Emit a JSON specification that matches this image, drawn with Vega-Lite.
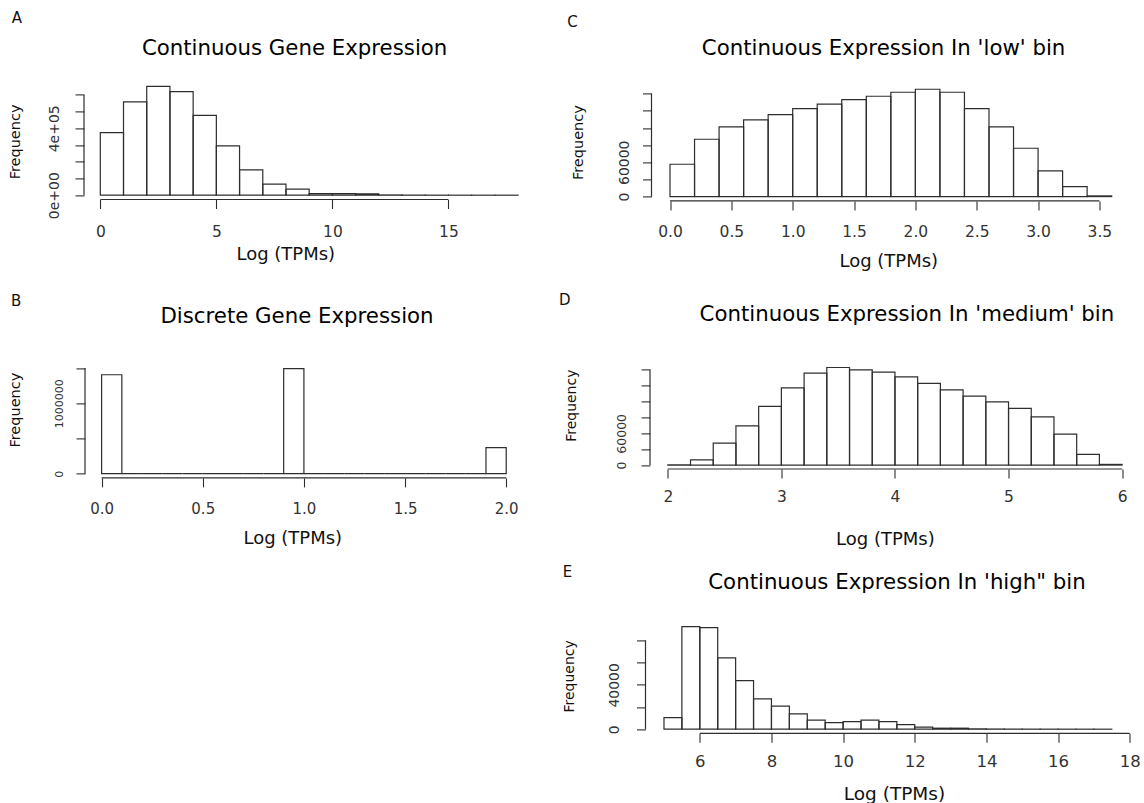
{
  "$schema": "https://vega.github.io/schema/vega-lite/v6.json",
  "padding": {"left": 7, "top": 10.4, "right": 0, "bottom": 0},
  "background": "white",
  "config": {
    "view": {"stroke": null},
    "font": "DejaVu Sans",
    "axis": {"domain": false, "grid": false, "ticks": true, "tickSize": 9, "tickColor": "#2e2e2e", "tickWidth": 1.1, "labelColor": "#333", "labelFont": "DejaVu Sans", "titleFont": "DejaVu Sans", "titleFontWeight": "normal", "titleColor": "#111", "labelFlush": false, "labelOverlap": false, "labelBound": false, "tickCount": 30},
    "title": {"font": "DejaVu Sans", "fontWeight": "normal", "color": "#000", "anchor": "middle", "frame": "group", "baseline": "alphabetic"},
    "text": {"font": "DejaVu Sans"}
  },
  "columns": 2,
  "align": "none",
  "bounds": "flush",
  "spacing": {"row": 140, "column": 115.5},
  "concat": [
    {
      "width": 451, "height": 116.1,
      "title": {"text": "Continuous Gene Expression", "fontSize": 21.3, "offset": -47.9, "dx": -15.9},
      "layer": [
        {
          "data": {"values": [
            {"x0": 0, "x1": 1, "count": 374500}, {"x0": 1, "x1": 2, "count": 558000}, {"x0": 2, "x1": 3, "count": 651000},
            {"x0": 3, "x1": 4, "count": 619500}, {"x0": 4, "x1": 5, "count": 478000}, {"x0": 5, "x1": 6, "count": 295000},
            {"x0": 6, "x1": 7, "count": 152000}, {"x0": 7, "x1": 8, "count": 66000}, {"x0": 8, "x1": 9, "count": 36000},
            {"x0": 9, "x1": 10, "count": 10000}, {"x0": 10, "x1": 11, "count": 10000}, {"x0": 11, "x1": 12, "count": 8000},
            {"x0": 12, "x1": 13, "count": 1500}, {"x0": 13, "x1": 14, "count": 500}, {"x0": 14, "x1": 15, "count": 200},
            {"x0": 15, "x1": 16, "count": 80}, {"x0": 16, "x1": 17, "count": 30}, {"x0": 17, "x1": 18, "count": 10}
          ]},
          "mark": {"type": "rect", "filled": false, "stroke": "#2e2e2e", "strokeWidth": 1.2},
          "encoding": {
            "x": {"field": "x0", "type": "quantitative", "scale": {"domain": [-0.659, 18.772], "nice": false, "zero": false},
                  "axis": {"values": [0, 5, 10, 15], "tickCount": 30, "format": "d", "labelOverlap": false, "labelFontSize": 15.5, "labelPadding": 15.8, "title": "Log (TPMs)", "titleFontSize": 18, "titlePadding": 5.3, "titleX": 200.3}},
            "x2": {"field": "x1"},
            "y": {"field": "count", "type": "quantitative", "scale": {"domain": [-25718, 668660], "nice": false, "zero": false},
                  "axis": {"values": [0, 100000, 200000, 300000, 400000, 500000, 600000], "tickCount": 30, "labelExpr": "datum.value == 0 ? '0e+00' : datum.value == 400000 ? '4e+05' : ''", "labelOverlap": false, "labelAngle": 270, "labelAlign": "center", "labelBaseline": "alphabetic", "labelFontSize": 14, "labelPadding": 17, "offset": 1, "title": "Frequency", "titleFontSize": 14.5, "titlePadding": 24.7}},
            "y2": {"datum": 0}
          }
        },
        {"data": {"values": [{}]}, "mark": {"type": "rule", "stroke": "#2e2e2e", "strokeWidth": 1.2}, "encoding": {"x": {"datum": 0}, "x2": {"datum": 15}, "y": {"datum": -25718}}},
        {"data": {"values": [{}]}, "mark": {"type": "rule", "stroke": "#2e2e2e", "strokeWidth": 1.2}, "encoding": {"x": {"datum": -0.7021}, "y": {"datum": 0}, "y2": {"datum": 600000}}},
        {"data": {"values": [{}]}, "mark": {"type": "text", "text": "A", "align": "left", "baseline": "alphabetic", "fontSize": 15, "color": "#111"}, "encoding": {"x": {"datum": -3.8171}, "y": {"datum": 1028708}}}
      ]
    },
    {
      "width": 480, "height": 117.5,
      "title": {"text": "Continuous Expression In 'low' bin", "fontSize": 21.3, "offset": -44.2, "dx": -7.9},
      "layer": [
        {
          "data": {"values": [
            {"x0": 0.0, "x1": 0.2, "count": 56500}, {"x0": 0.2, "x1": 0.4, "count": 100200}, {"x0": 0.4, "x1": 0.6, "count": 121700},
            {"x0": 0.6, "x1": 0.8, "count": 134000}, {"x0": 0.8, "x1": 1.0, "count": 143300}, {"x0": 1.0, "x1": 1.2, "count": 153800},
            {"x0": 1.2, "x1": 1.4, "count": 161400}, {"x0": 1.4, "x1": 1.6, "count": 169500}, {"x0": 1.6, "x1": 1.8, "count": 175300},
            {"x0": 1.8, "x1": 2.0, "count": 182300}, {"x0": 2.0, "x1": 2.2, "count": 187600}, {"x0": 2.2, "x1": 2.4, "count": 182300},
            {"x0": 2.4, "x1": 2.6, "count": 153800}, {"x0": 2.6, "x1": 2.8, "count": 121700}, {"x0": 2.8, "x1": 3.0, "count": 84500},
            {"x0": 3.0, "x1": 3.2, "count": 44900}, {"x0": 3.2, "x1": 3.4, "count": 17500}, {"x0": 3.4, "x1": 3.6, "count": 1200}
          ]},
          "mark": {"type": "rect", "filled": false, "stroke": "#2e2e2e", "strokeWidth": 1.2},
          "encoding": {
            "x": {"field": "x0", "type": "quantitative", "scale": {"domain": [-0.1508, 3.7615], "nice": false, "zero": false},
                  "axis": {"values": [0, 0.5, 1, 1.5, 2, 2.5, 3, 3.5], "tickCount": 30, "format": ".1f", "labelOverlap": false, "labelFontSize": 15.5, "labelPadding": 14.4, "title": "Log (TPMs)", "titleFontSize": 18, "titlePadding": 12.3, "titleX": 236.8}},
            "x2": {"field": "x1"},
            "y": {"field": "count", "type": "quantitative", "scale": {"domain": [-7513, 197787], "nice": false, "zero": false},
                  "axis": {"values": [0, 30000, 60000, 90000, 120000, 150000, 180000], "tickCount": 30, "labelExpr": "datum.value == 0 ? '0' : datum.value == 60000 ? '60000' : ''", "labelOverlap": false, "labelAngle": 270, "labelAlign": "center", "labelBaseline": "alphabetic", "labelFontSize": 14, "labelPadding": 14.4, "title": "Frequency", "titleFontSize": 14.5, "titlePadding": 31.4}},
            "y2": {"datum": 0}
          }
        },
        {"data": {"values": [{}]}, "mark": {"type": "rule", "stroke": "#2e2e2e", "strokeWidth": 1.2}, "encoding": {"x": {"datum": 0}, "x2": {"datum": 3.5}, "y": {"datum": -7513}}},
        {"data": {"values": [{}]}, "mark": {"type": "rule", "stroke": "#2e2e2e", "strokeWidth": 1.2}, "encoding": {"x": {"datum": -0.1508}, "y": {"datum": 0}, "y2": {"datum": 180000}}},
        {"data": {"values": [{}]}, "mark": {"type": "text", "text": "C", "align": "left", "baseline": "alphabetic", "fontSize": 15, "color": "#111"}, "encoding": {"x": {"datum": -0.8371}, "y": {"datum": 296331}}}
      ]
    },
    {
      "width": 451, "height": 136.5,
      "title": {"text": "Discrete Gene Expression", "fontSize": 21.3, "offset": -32.8, "dx": -13.5},
      "layer": [
        {
          "data": {"values": [
            {"x0": 0.0, "x1": 0.1, "count": 1405000}, {"x0": 0.1, "x1": 0.2, "count": 0}, {"x0": 0.2, "x1": 0.3, "count": 0},
            {"x0": 0.3, "x1": 0.4, "count": 0}, {"x0": 0.4, "x1": 0.5, "count": 0}, {"x0": 0.5, "x1": 0.6, "count": 0},
            {"x0": 0.6, "x1": 0.7, "count": 0}, {"x0": 0.7, "x1": 0.8, "count": 0}, {"x0": 0.8, "x1": 0.9, "count": 0},
            {"x0": 0.9, "x1": 1.0, "count": 1491000}, {"x0": 1.0, "x1": 1.1, "count": 0}, {"x0": 1.1, "x1": 1.2, "count": 0},
            {"x0": 1.2, "x1": 1.3, "count": 0}, {"x0": 1.3, "x1": 1.4, "count": 0}, {"x0": 1.4, "x1": 1.5, "count": 0},
            {"x0": 1.5, "x1": 1.6, "count": 0}, {"x0": 1.6, "x1": 1.7, "count": 0}, {"x0": 1.7, "x1": 1.8, "count": 0},
            {"x0": 1.8, "x1": 1.9, "count": 0}, {"x0": 1.9, "x1": 2.0, "count": 369000}
          ]},
          "mark": {"type": "rect", "filled": false, "stroke": "#2e2e2e", "strokeWidth": 1.2},
          "encoding": {
            "x": {"field": "x0", "type": "quantitative", "scale": {"domain": [-0.0821, 2.1473], "nice": false, "zero": false},
                  "axis": {"values": [0, 0.5, 1, 1.5, 2], "tickCount": 30, "format": ".1f", "labelOverlap": false, "labelFontSize": 15, "labelPadding": 14.8, "title": "Log (TPMs)", "titleFontSize": 18, "titlePadding": 12.9, "titleX": 207.3}},
            "x2": {"field": "x1"},
            "y": {"field": "count", "type": "quantitative", "scale": {"domain": [-59625, 1878194], "nice": false, "zero": false},
                  "axis": {"values": [0, 500000, 1000000, 1500000], "tickCount": 30, "labelExpr": "datum.value == 0 ? '0' : datum.value == 1000000 ? '1000000' : ''", "labelOverlap": false, "labelAngle": 270, "labelAlign": "center", "labelBaseline": "alphabetic", "labelFontSize": 11, "labelPadding": 13.4, "title": "Frequency", "titleFontSize": 14.5, "titlePadding": 30.7}},
            "y2": {"datum": 0}
          }
        },
        {"data": {"values": [{}]}, "mark": {"type": "rule", "stroke": "#2e2e2e", "strokeWidth": 1.2}, "encoding": {"x": {"datum": 0}, "x2": {"datum": 2}, "y": {"datum": -59625}}},
        {"data": {"values": [{}]}, "mark": {"type": "rule", "stroke": "#2e2e2e", "strokeWidth": 1.2}, "encoding": {"x": {"datum": -0.0821}, "y": {"datum": 0}, "y2": {"datum": 1500000}}},
        {"data": {"values": [{}]}, "mark": {"type": "text", "text": "B", "align": "left", "baseline": "alphabetic", "fontSize": 15, "color": "#111"}, "encoding": {"x": {"datum": -0.4479}, "y": {"datum": 2373651}}}
      ]
    },
    {
      "width": 489, "height": 127.6,
      "title": {"text": "Continuous Expression In 'medium' bin", "fontSize": 21.3, "offset": -32.9, "dx": 10.9},
      "layer": [
        {
          "data": {"values": [
            {"x0": 2.0, "x1": 2.2, "count": 300}, {"x0": 2.2, "x1": 2.4, "count": 10000}, {"x0": 2.4, "x1": 2.6, "count": 41500},
            {"x0": 2.6, "x1": 2.8, "count": 74200}, {"x0": 2.8, "x1": 3.0, "count": 110700}, {"x0": 3.0, "x1": 3.2, "count": 145900},
            {"x0": 3.2, "x1": 3.4, "count": 173600}, {"x0": 3.4, "x1": 3.6, "count": 184300}, {"x0": 3.6, "x1": 3.8, "count": 179900},
            {"x0": 3.8, "x1": 4.0, "count": 175500}, {"x0": 4.0, "x1": 4.2, "count": 166700}, {"x0": 4.2, "x1": 4.4, "count": 154100},
            {"x0": 4.4, "x1": 4.6, "count": 142100}, {"x0": 4.6, "x1": 4.8, "count": 130200}, {"x0": 4.8, "x1": 5.0, "count": 119500},
            {"x0": 5.0, "x1": 5.2, "count": 106900}, {"x0": 5.2, "x1": 5.4, "count": 91200}, {"x0": 5.4, "x1": 5.6, "count": 58500},
            {"x0": 5.6, "x1": 5.8, "count": 20100}, {"x0": 5.8, "x1": 6.0, "count": 1300}
          ]},
          "mark": {"type": "rect", "filled": false, "stroke": "#2e2e2e", "strokeWidth": 1.2},
          "encoding": {
            "x": {"field": "x0", "type": "quantitative", "scale": {"domain": [1.8565, 6.1618], "nice": false, "zero": false},
                  "axis": {"values": [2, 3, 4, 5, 6], "tickCount": 30, "format": "d", "labelOverlap": false, "labelFontSize": 15.5, "labelPadding": 11.8, "title": "Log (TPMs)", "titleFontSize": 18, "titlePadding": 25.6, "titleX": 233.4}},
            "x2": {"field": "x1"},
            "y": {"field": "count", "type": "quantitative", "scale": {"domain": [-7363, 233543], "nice": false, "zero": false},
                  "axis": {"values": [0, 30000, 60000, 90000, 120000, 150000, 180000], "tickCount": 30, "labelExpr": "datum.value == 0 ? '0' : datum.value == 60000 ? '60000' : ''", "labelOverlap": false, "labelAngle": 270, "labelAlign": "center", "labelBaseline": "alphabetic", "labelFontSize": 12.5, "labelPadding": 15.2, "offset": 1.5, "title": "Frequency", "titleFontSize": 14, "titlePadding": 37.6}},
            "y2": {"datum": 0}
          }
        },
        {"data": {"values": [{}]}, "mark": {"type": "rule", "stroke": "#2e2e2e", "strokeWidth": 1.2}, "encoding": {"x": {"datum": 2}, "x2": {"datum": 6}, "y": {"datum": -7363}}},
        {"data": {"values": [{}]}, "mark": {"type": "rule", "stroke": "#2e2e2e", "strokeWidth": 1.2}, "encoding": {"x": {"datum": 1.8433}, "y": {"datum": 0}, "y2": {"datum": 180000}}},
        {"data": {"values": [{}]}, "mark": {"type": "text", "text": "D", "align": "left", "baseline": "alphabetic", "fontSize": 15, "color": "#111"}, "encoding": {"x": {"datum": 1.0421}, "y": {"datum": 302643}}}
      ]
    },
    {
      "width": 451, "height": 10,
      "data": {"values": []},
      "mark": {"type": "point", "opacity": 0}
    },
    {
      "width": 480, "height": 114.9,
      "title": {"text": "Continuous Expression In 'high\" bin", "fontSize": 21.3, "offset": -28.4, "dx": 5.5},
      "layer": [
        {
          "data": {"values": [
            {"x0": 5.0, "x1": 5.5, "count": 10500}, {"x0": 5.5, "x1": 6.0, "count": 92600}, {"x0": 6.0, "x1": 6.5, "count": 91700},
            {"x0": 6.5, "x1": 7.0, "count": 64400}, {"x0": 7.0, "x1": 7.5, "count": 43900}, {"x0": 7.5, "x1": 8.0, "count": 27400},
            {"x0": 8.0, "x1": 8.5, "count": 20800}, {"x0": 8.5, "x1": 9.0, "count": 13800}, {"x0": 9.0, "x1": 9.5, "count": 8100},
            {"x0": 9.5, "x1": 10.0, "count": 6000}, {"x0": 10.0, "x1": 10.5, "count": 6900}, {"x0": 10.5, "x1": 11.0, "count": 8100},
            {"x0": 11.0, "x1": 11.5, "count": 6900}, {"x0": 11.5, "x1": 12.0, "count": 4200}, {"x0": 12.0, "x1": 12.5, "count": 1800},
            {"x0": 12.5, "x1": 13.0, "count": 900}, {"x0": 13.0, "x1": 13.5, "count": 900}, {"x0": 13.5, "x1": 14.0, "count": 300},
            {"x0": 14.0, "x1": 14.5, "count": 150}, {"x0": 14.5, "x1": 15.0, "count": 80}, {"x0": 15.0, "x1": 15.5, "count": 50},
            {"x0": 15.5, "x1": 16.0, "count": 30}, {"x0": 16.0, "x1": 16.5, "count": 20}, {"x0": 16.5, "x1": 17.0, "count": 10},
            {"x0": 17.0, "x1": 17.5, "count": 5}
          ]},
          "mark": {"type": "rect", "filled": false, "stroke": "#2e2e2e", "strokeWidth": 1.2},
          "encoding": {
            "x": {"field": "x0", "type": "quantitative", "scale": {"domain": [4.6516, 18.05], "nice": false, "zero": false},
                  "axis": {"values": [6, 8, 10, 12, 14, 16, 18], "tickCount": 30, "format": "d", "labelOverlap": false, "labelFontSize": 16.5, "labelPadding": 11.3, "title": "Log (TPMs)", "titleFontSize": 18.5, "titlePadding": 14.5, "titleX": 242.5}},
            "x2": {"field": "x1"},
            "y": {"field": "count", "type": "quantitative", "scale": {"domain": [-3699, 99955], "nice": false, "zero": false},
                  "axis": {"values": [0, 20000, 40000, 60000, 80000], "tickCount": 30, "labelExpr": "datum.value == 0 ? '0' : datum.value == 40000 ? '40000' : ''", "labelOverlap": false, "labelAngle": 270, "labelAlign": "center", "labelBaseline": "alphabetic", "labelFontSize": 14, "labelPadding": 18.1, "offset": 6, "title": "Frequency", "titleFontSize": 14, "titlePadding": 30.9}},
            "y2": {"datum": 0}
          }
        },
        {"data": {"values": [{}]}, "mark": {"type": "rule", "stroke": "#2e2e2e", "strokeWidth": 1.2}, "encoding": {"x": {"datum": 6}, "x2": {"datum": 18}, "y": {"datum": -3699}}},
        {"data": {"values": [{}]}, "mark": {"type": "rule", "stroke": "#2e2e2e", "strokeWidth": 1.2}, "encoding": {"x": {"datum": 4.4841}, "y": {"datum": 0}, "y2": {"datum": 80000}}},
        {"data": {"values": [{}]}, "mark": {"type": "text", "text": "E", "align": "left", "baseline": "alphabetic", "fontSize": 15, "color": "#111"}, "encoding": {"x": {"datum": 2.1725}, "y": {"datum": 137302}}}
      ]
    }
  ]
}
